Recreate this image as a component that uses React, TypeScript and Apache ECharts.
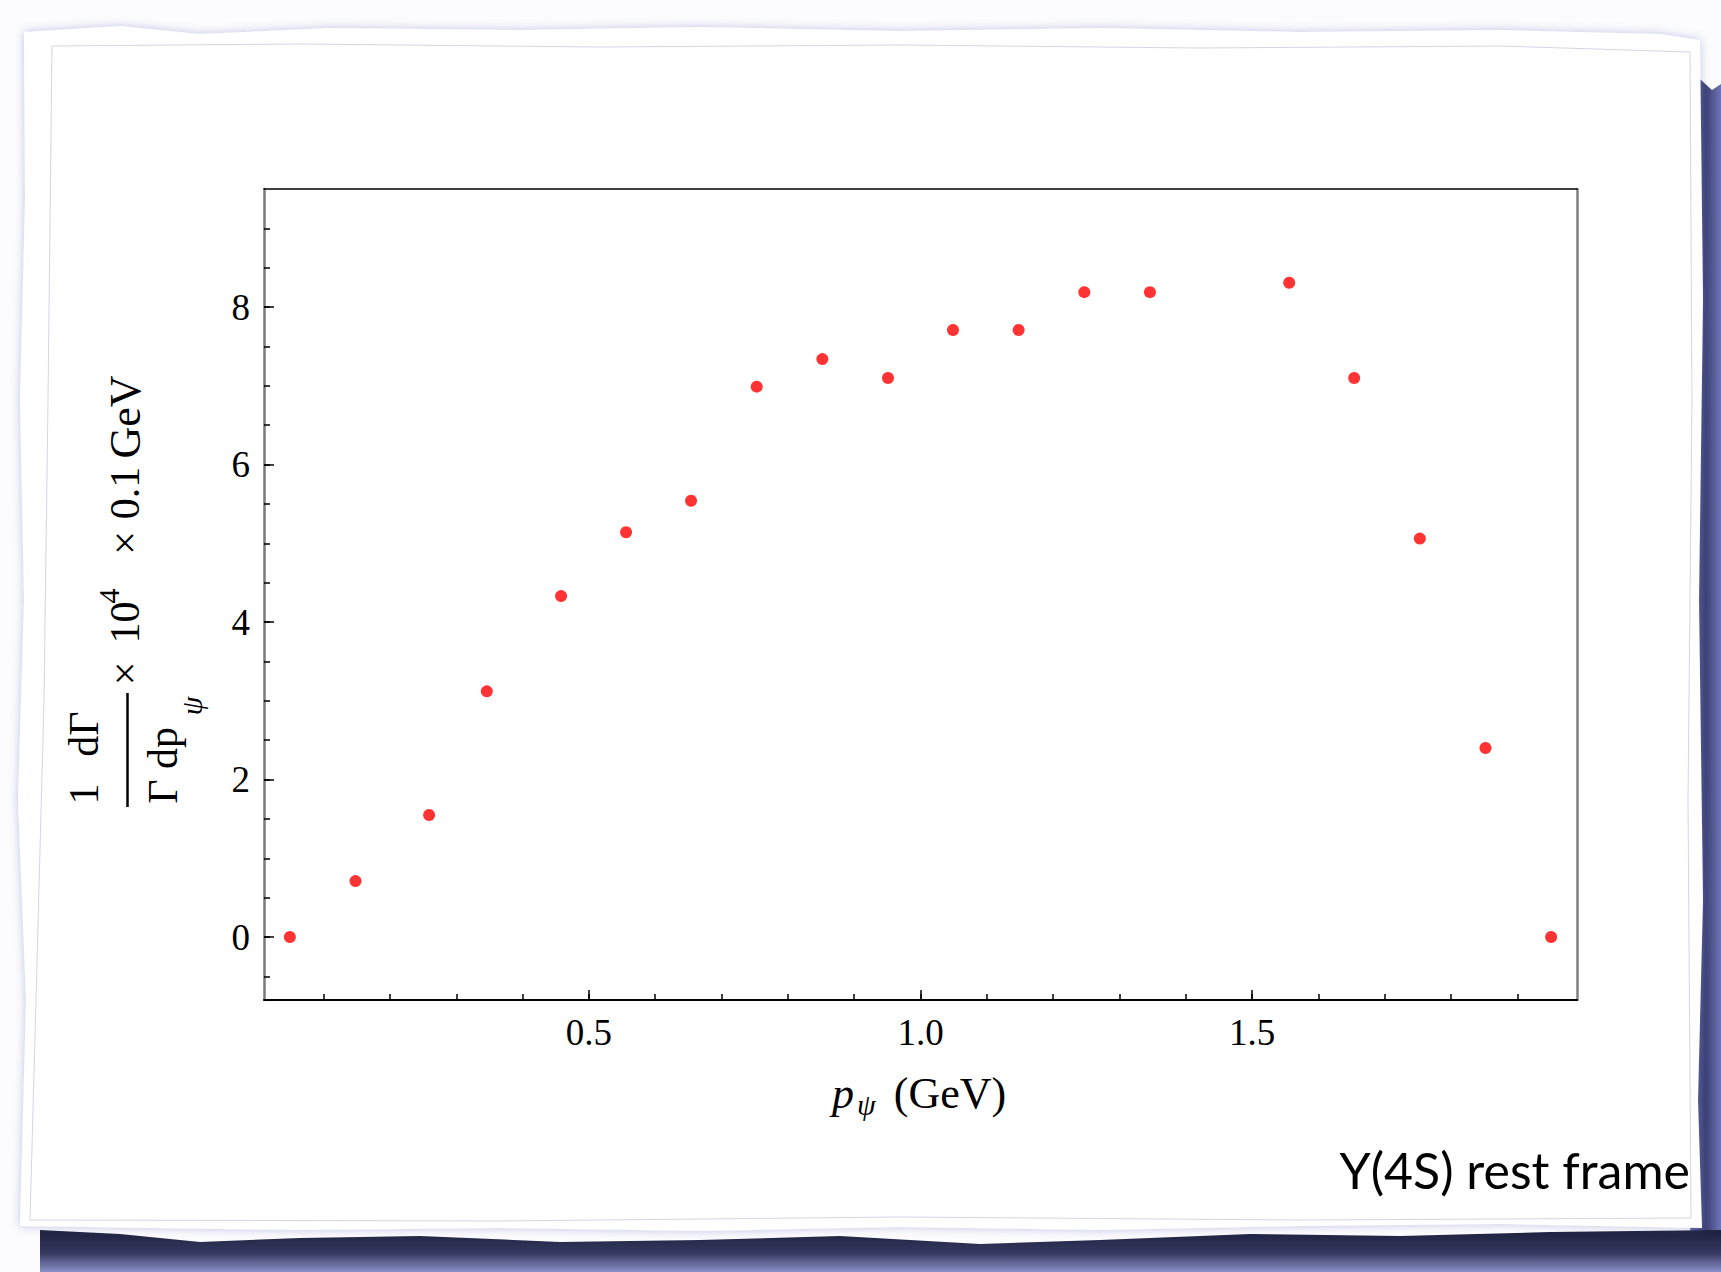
import React, { useEffect, useRef } from "react";
import * as echarts from "echarts";

// ---- data ----
const pPsi = [0.049, 0.148, 0.259, 0.346, 0.458, 0.556, 0.654, 0.753, 0.852, 0.951, 1.049, 1.148, 1.247, 1.346, 1.556, 1.654, 1.753, 1.852, 1.951];
const rate = [0, 0.71, 1.55, 3.12, 4.33, 5.14, 5.54, 6.99, 7.34, 7.1, 7.71, 7.71, 8.19, 8.19, 8.31, 7.1, 5.06, 2.4, 0];

const xMinorTicks = [0.1, 0.2, 0.3, 0.4, 0.5, 0.6, 0.7, 0.8, 0.9, 1.0, 1.1, 1.2, 1.3, 1.4, 1.5, 1.6, 1.7, 1.8, 1.9];
const xMajorTicks = [0.5, 1.0, 1.5];
const yMinorTicks = [-0.5, 0, 0.5, 1, 1.5, 2, 2.5, 3, 3.5, 4, 4.5, 5, 5.5, 6, 6.5, 7, 7.5, 8, 8.5, 9];
const yMajorTicks = [0, 2, 4, 6, 8];

const X_MIN = 0.01;
const X_MAX = 1.99;
const Y_MIN = -0.8;
const Y_MAX = 9.5;

const SERIF = "'Liberation Serif', 'Times New Roman', Times, serif";
const SANS = "Lato, 'Noto Sans', 'Open Sans', sans-serif";
const R = Math.PI / 2;

function serifText(x: number, y: number, text: string, size: number, opts: any = {}) {
  return {
    type: "text",
    x,
    y,
    z: 50,
    rotation: opts.rotation || 0,
    style: {
      text,
      fill: "#000",
      fontFamily: SERIF,
      fontSize: size,
      fontStyle: opts.italic ? "italic" : "normal",
      align: opts.align || "center",
      verticalAlign: "middle",
    },
  };
}

export default function App() {
  const ref = useRef<HTMLDivElement>(null);

  useEffect(() => {
    if (!ref.current) return;
    const chart = echarts.init(ref.current, null, { renderer: "svg" });

    const background: any[] = [
      { type: "rect", z: -40, shape: { x: 0, y: 0, width: 1721, height: 1272 }, style: { fill: "#fcfcfe" } },
      {
        type: "polygon",
        z: -38,
        shape: {
          points: [
            [1690, 70], [1712, 90], [1721, 84], [1721, 1272], [1690, 1272], [1692, 900], [1694, 600], [1692, 300],
          ],
        },
        style: {
          fill: new echarts.graphic.LinearGradient(0, 0, 1, 0, [
            { offset: 0, color: "#5a5f9c" },
            { offset: 0.5, color: "#3a3f74" },
            { offset: 1, color: "#6e74b4" },
          ]),
        },
      },
      {
        type: "polygon",
        z: -37,
        shape: {
          points: [
            [40, 1230], [120, 1234], [200, 1242], [300, 1238], [420, 1236], [560, 1242], [700, 1240], [840, 1236],
            [980, 1244], [1100, 1240], [1250, 1234], [1400, 1236], [1550, 1232], [1721, 1230], [1721, 1272], [40, 1272],
          ],
        },
        style: {
          fill: new echarts.graphic.LinearGradient(0, 0, 0, 1, [
            { offset: 0, color: "#1c1f3b" },
            { offset: 0.55, color: "#353960" },
            { offset: 1, color: "#8a90c8" },
          ]),
        },
      },
      {
        type: "polygon",
        z: -36,
        shape: {
          points: [
            [24, 32], [120, 26], [200, 34], [330, 28], [520, 30], [700, 27], [900, 31], [1100, 28], [1300, 32],
            [1500, 30], [1660, 34], [1700, 40], [1703, 300], [1699, 600], [1703, 900], [1698, 1100], [1702, 1228],
            [1500, 1224], [1300, 1226], [1100, 1230], [900, 1227], [700, 1231], [500, 1228], [300, 1230],
            [150, 1228], [20, 1226], [26, 1000], [18, 800], [24, 600], [20, 400], [25, 200],
          ],
        },
        style: {
          fill: "#ffffff",
          shadowBlur: 10,
          shadowColor: "rgba(110,120,190,0.45)",
        },
      },
      {
        type: "polyline",
        z: -35,
        shape: {
          points: [
            [52, 46], [300, 44], [600, 47], [900, 45], [1200, 48], [1500, 46], [1690, 52], [1692, 400],
            [1688, 800], [1691, 1218], [1300, 1220], [900, 1217], [500, 1221], [30, 1220], [36, 1000],
            [44, 700], [48, 400], [52, 46],
          ],
        },
        style: { stroke: "#d4d6e2", lineWidth: 1, fill: null },
      },
    ];

    const labels: any[] = [
      // y-axis title (rotated)
      serifText(84, 794, "1", 42, { rotation: R }),
      serifText(84, 734, "dΓ", 42, { rotation: R }),
      { type: "line", z: 50, shape: { x1: 127.5, y1: 693, x2: 127.5, y2: 807 }, style: { stroke: "#000", lineWidth: 2.5 } },
      serifText(163, 791.5, "Γ", 42, { rotation: R }),
      serifText(163, 748, "dp", 42, { rotation: R }),
      serifText(191, 706, "ψ", 30, { rotation: R, italic: true }),
      serifText(125, 673.5, "×", 42, { rotation: R }),
      serifText(125, 622.5, "10", 42, { rotation: R }),
      serifText(108, 596, "4", 30, { rotation: R }),
      serifText(125, 543, "×", 42, { rotation: R }),
      serifText(125, 493, "0.1", 42, { rotation: R }),
      serifText(125, 417, "GeV", 44, { rotation: R }),
      // x-axis title
      serifText(832, 1093, "p", 44, { italic: true, align: "left" }),
      serifText(857, 1104, "ψ", 30, { italic: true, align: "left" }),
      serifText(950, 1093, "(GeV)", 44),
      // frame note
      {
        type: "text",
        x: 1690,
        y: 1170,
        z: 50,
        style: {
          text: "Υ(4S) rest frame",
          fill: "#000",
          fontFamily: SANS,
          fontSize: 50,
          align: "right",
          verticalAlign: "middle",
        },
      },
    ];

    const noLine = { show: false };
    const option: any = {
      animation: false,
      backgroundColor: "transparent",
      grid: { left: 264, right: 144, top: 189, bottom: 272, containLabel: false },
      xAxis: [
        {
          type: "value",
          min: X_MIN,
          max: X_MAX,
          position: "bottom",
          axisLine: { show: true, onZero: false, lineStyle: { color: "#000", width: 2 } },
          axisTick: { show: true, inside: true, length: 6, customValues: xMinorTicks, lineStyle: { color: "#000", width: 1.5 } },
          axisLabel: {
            show: true,
            customValues: xMajorTicks,
            formatter: (v: number) => v.toFixed(1),
            fontFamily: SERIF,
            fontSize: 37,
            color: "#000",
            margin: 14,
          },
          splitLine: noLine,
        },
        {
          type: "value",
          min: X_MIN,
          max: X_MAX,
          position: "bottom",
          axisLine: { show: false, onZero: false },
          axisTick: { show: true, inside: true, length: 10, customValues: xMajorTicks, lineStyle: { color: "#000", width: 1.5 } },
          axisLabel: { show: false },
          splitLine: noLine,
        },
        {
          type: "value",
          min: X_MIN,
          max: X_MAX,
          position: "top",
          axisLine: { show: true, onZero: false, lineStyle: { color: "#000", width: 1.5 } },
          axisTick: noLine,
          axisLabel: { show: false },
          splitLine: noLine,
        },
      ],
      yAxis: [
        {
          type: "value",
          min: Y_MIN,
          max: Y_MAX,
          position: "left",
          axisLine: { show: true, onZero: false, lineStyle: { color: "#7a7a7a", width: 2.5 } },
          axisTick: { show: true, inside: true, length: 6, customValues: yMinorTicks, lineStyle: { color: "#000", width: 1.5 } },
          axisLabel: {
            show: true,
            customValues: yMajorTicks,
            fontFamily: SERIF,
            fontSize: 37,
            color: "#000",
            margin: 14,
          },
          splitLine: noLine,
        },
        {
          type: "value",
          min: Y_MIN,
          max: Y_MAX,
          position: "left",
          axisLine: { show: false, onZero: false },
          axisTick: { show: true, inside: true, length: 10, customValues: yMajorTicks, lineStyle: { color: "#000", width: 1.5 } },
          axisLabel: { show: false },
          splitLine: noLine,
        },
        {
          type: "value",
          min: Y_MIN,
          max: Y_MAX,
          position: "right",
          axisLine: { show: true, onZero: false, lineStyle: { color: "#808080", width: 2.5 } },
          axisTick: noLine,
          axisLabel: { show: false },
          splitLine: noLine,
        },
      ],
      graphic: { elements: [...background, ...labels] },
      series: [
        {
          type: "scatter",
          xAxisIndex: 0,
          yAxisIndex: 0,
          symbol: "circle",
          symbolSize: 12,
          itemStyle: { color: "#ff0000" },
          data: pPsi.map((x, i) => [x, rate[i]]),
          z: 10,
        },
      ],
    };

    chart.setOption(option);
    return () => chart.dispose();
  }, []);

  return (
    <div
      ref={ref}
      style={{ position: "absolute", left: 0, top: 0, width: 1721, height: 1272, overflow: "hidden" }}
    />
  );
}
